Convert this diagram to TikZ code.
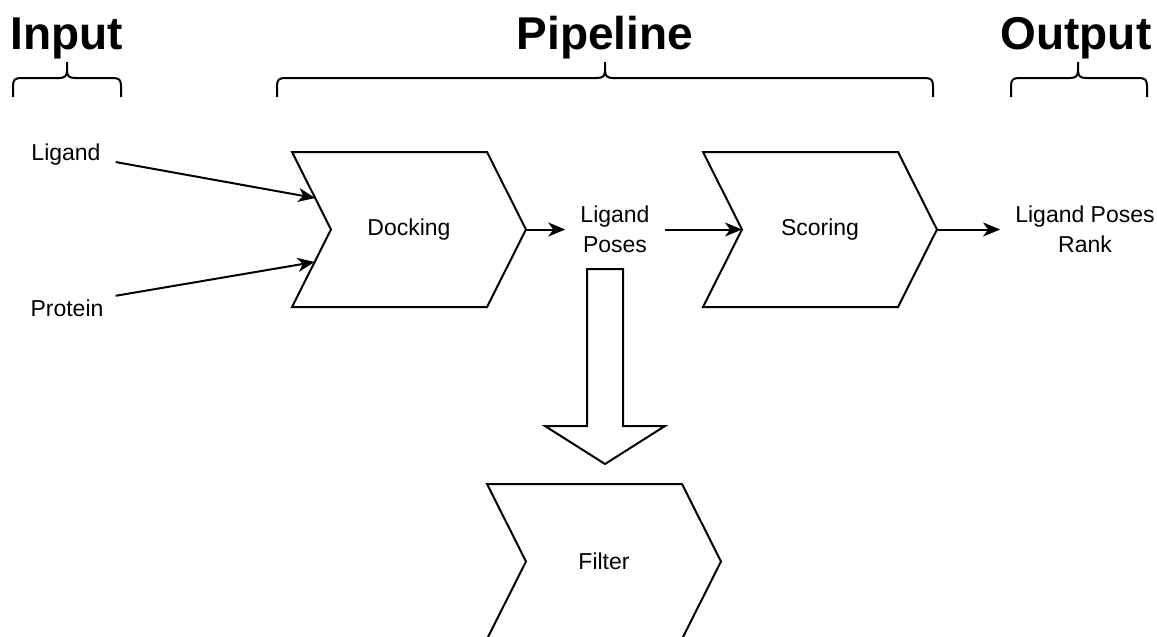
\documentclass[tikz,border=0pt]{standalone}
\usepackage{fontspec}
\setmainfont{Liberation Sans}
\usetikzlibrary{arrows.meta,calc}

% Chevron step: #1 name, #2 left x, #3 top y (width 234, height 155, notch 39)
\newcommand{\chevronshape}[3]{%
  \coordinate (#1-tl) at (#2,#3);
  \coordinate (#1-tr) at (#2+195,#3);
  \coordinate (#1-tip) at (#2+234,#3+77.5);
  \coordinate (#1-br) at (#2+195,#3+155);
  \coordinate (#1-bl) at (#2,#3+155);
  \coordinate (#1-notch) at (#2+39,#3+77.5);
  \coordinate (#1-c) at (#2+117,#3+77.5);
  \draw[shapeline] (#1-tl) -- (#1-tr) -- (#1-tip) -- (#1-br) -- (#1-bl) -- (#1-notch) -- cycle;
}

% Curly brace over a group: #1 left x, #2 middle x, #3 right x
\newcommand{\groupbrace}[3]{%
  \draw[shapeline] (#1,97) -- (#1,86) .. controls (#1,80) and (#1+2,78) .. (#1+8,78)
    -- (#2-8,78) .. controls (#2-2,78) and (#2,76) .. (#2,70) -- (#2,62);
  \draw[shapeline] (#3,97) -- (#3,86) .. controls (#3,80) and (#3-2,78) .. (#3-8,78)
    -- (#2+8,78) .. controls (#2+2,78) and (#2,76) .. (#2,70);
}

\begin{document}
\begin{tikzpicture}[x=1pt,y=-1pt,
  shapeline/.style={line width=2pt, line join=miter},
  arr/.style={line width=2pt, -{Stealth[length=17pt,width=14pt,inset=5pt]}},
  title/.style={font=\fontsize{46}{50}\selectfont\bfseries, inner sep=0pt},
  txt/.style={font=\fontsize{23}{30}\selectfont, align=center, inner sep=3pt}]

\useasboundingbox (0,0) rectangle (1157,637);
\clip (0,0) rectangle (1157,637);

% Headings
\node[title, anchor=base] (input) at (67,49) {Input};
\node[title, anchor=base] (pipeline) at (605,49) {Pipeline};
\node[title, anchor=base] (output) at (1076,49) {Output};

% Braces under headings
\groupbrace{13}{67}{121}
\groupbrace{277}{605}{933}
\groupbrace{1011}{1078}{1147}

% Process steps
\chevronshape{dock}{292}{152}
\chevronshape{score}{703}{152}
\chevronshape{filt}{487}{484}

\node[txt] (docking) at (dock-c) {Docking};
\node[txt] (scoring) at (score-c) {Scoring};
\node[txt] (filter) at (filt-c) {Filter};

% Inputs and intermediate results
\node[txt, anchor=base] (ligand) at (66,160) {Ligand};
\node[txt, anchor=base] (protein) at (67,316) {Protein};
\node[txt, inner xsep=15pt] (poses) at (615,229.5) {Ligand\\Poses};
\node[txt, inner xsep=15pt] (rank) at (1085,229.5) {Ligand Poses\\Rank};

% Entry points on the docking step's notched side
\coordinate (dock-in1) at ($(dock-tl)!0.594!(dock-notch)$);
\coordinate (dock-in2) at ($(dock-notch)!0.419!(dock-bl)$);

% Connectors
\draw[arr] ([shift={(12,8)}]ligand.east) -- (dock-in1);
\draw[arr] ([shift={(9,-12)}]protein.east) -- (dock-in2);
\draw[arr] (dock-tip) -- (poses.west);
\draw[arr] (poses.east) -- (score-notch);
\draw[arr] (score-tip) -- (rank.west);

% Block arrow from the poses down to the filter step
\draw[shapeline] (587,269) -- (623,269) -- (623,426) -- (665,426) -- (605,464)
  -- (545,426) -- (587,426) -- cycle;

\end{tikzpicture}
\end{document}
